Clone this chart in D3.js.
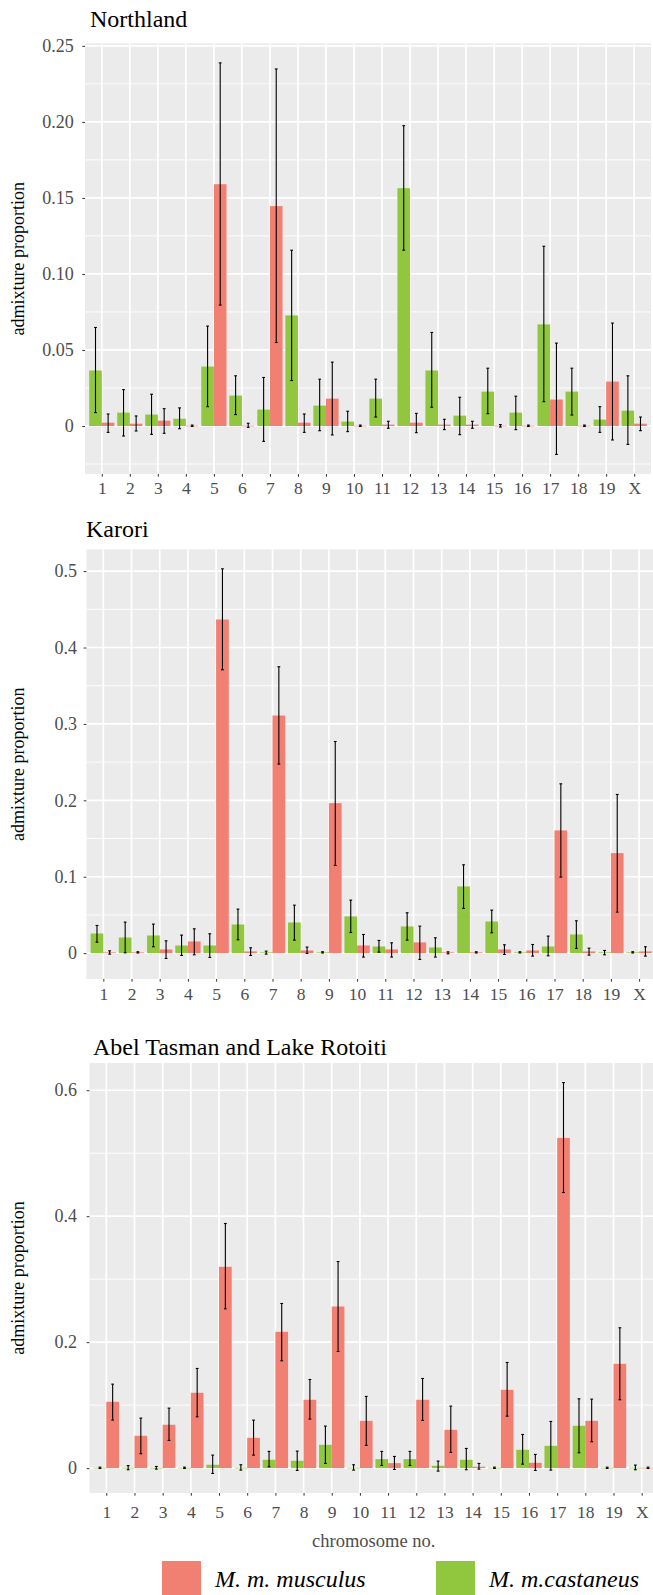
<!DOCTYPE html>
<html>
<head>
<meta charset="utf-8">
<script src="https://cdn.jsdelivr.net/npm/d3@7"></script>
<style>
body { margin: 0; background: #fff; }
svg { display: block; }
svg text { font-family: "Liberation Serif", "Times New Roman", Times, "DejaVu Serif", serif !important; }
</style>
</head>
<body>
<svg id="chart" width="653" height="1595"></svg>
<script>
// chromosome categories
var chromosomes = ["1","2","3","4","5","6","7","8","9","10","11","12","13","14","15","16","17","18","19","X"];

// Northland
var northlandCas   = [0.0365, 0.0088, 0.0075, 0.0048, 0.0391, 0.0200, 0.0108, 0.0727, 0.0134, 0.0029, 0.0180, 0.1564, 0.0365, 0.0068, 0.0226, 0.0088, 0.0668, 0.0226, 0.0042, 0.0101];
var northlandCasLo = [0.0088, -0.0066, -0.0055, -0.0018, 0.0127, 0.0075, -0.0101, 0.0299, -0.0031, -0.0037, 0.0059, 0.1156, 0.0123, -0.0057, 0.0081, -0.0024, 0.0160, 0.0072, -0.0042, -0.0121];
var northlandCasHi = [0.0648, 0.0239, 0.0209, 0.0119, 0.0657, 0.0330, 0.0319, 0.1156, 0.0308, 0.0097, 0.0308, 0.1975, 0.0615, 0.0189, 0.0380, 0.0196, 0.1182, 0.0380, 0.0127, 0.0330];
var northlandMus   = [0.0022, 0.0015, 0.0035, 0.0002, 0.1590, 0.0002, 0.1446, 0.0022, 0.0180, 0.0002, 0.0009, 0.0022, 0.0009, 0.0009, 0.0002, 0.0002, 0.0174, 0.0002, 0.0292, 0.0015];
var northlandMusLo = [-0.0042, -0.0033, -0.0048, -0.0003, 0.0795, -0.0009, 0.0549, -0.0042, -0.0059, -0.0003, -0.0015, -0.0044, -0.0024, -0.0015, -0.0007, -0.0003, -0.0187, -0.0003, -0.0092, -0.0031];
var northlandMusHi = [0.0079, 0.0066, 0.0114, 0.0006, 0.2388, 0.0018, 0.2348, 0.0079, 0.0420, 0.0006, 0.0031, 0.0083, 0.0044, 0.0031, 0.0009, 0.0006, 0.0545, 0.0006, 0.0677, 0.0059];

// Karori
var karoriCas   = [0.0257, 0.0205, 0.0231, 0.0100, 0.0100, 0.0375, 0.0010, 0.0401, 0.0010, 0.0480, 0.0087, 0.0349, 0.0074, 0.0873, 0.0414, 0.0010, 0.0087, 0.0244, 0.0010, 0.0010];
var karoriCasLo = [0.0144, 0.0004, 0.0083, -0.0030, -0.0057, 0.0175, -0.0013, 0.0170, 0.0002, 0.0270, 0.0013, 0.0170, -0.0052, 0.0585, 0.0266, 0.0002, -0.0035, 0.0061, -0.0022, 0.0002];
var karoriCasHi = [0.0362, 0.0406, 0.0380, 0.0236, 0.0253, 0.0576, 0.0026, 0.0628, 0.0018, 0.0694, 0.0166, 0.0528, 0.0201, 0.1156, 0.0563, 0.0018, 0.0223, 0.0423, 0.0035, 0.0018];
var karoriMus   = [0.0010, 0.0010, 0.0048, 0.0153, 0.4367, 0.0022, 0.3110, 0.0035, 0.1963, 0.0100, 0.0048, 0.0140, 0.0010, 0.0010, 0.0048, 0.0035, 0.1606, 0.0022, 0.1309, 0.0022];
var karoriMusLo = [-0.0013, 0.0002, -0.0070, -0.0022, 0.3709, -0.0030, 0.2474, -0.0004, 0.1147, -0.0052, -0.0052, -0.0083, -0.0009, 0.0002, -0.0017, -0.0039, 0.0995, -0.0026, 0.0537, -0.0039];
var karoriMusHi = [0.0030, 0.0018, 0.0161, 0.0318, 0.5030, 0.0070, 0.3748, 0.0079, 0.2770, 0.0244, 0.0135, 0.0353, 0.0017, 0.0018, 0.0109, 0.0113, 0.2216, 0.0065, 0.2077, 0.0083];

// Abel Tasman and Lake Rotoiti
var abelCas   = [0.0005, 0.0005, 0.0005, 0.0005, 0.0053, 0.0005, 0.0132, 0.0116, 0.0370, 0.0005, 0.0143, 0.0143, 0.0037, 0.0132, 0.0005, 0.0291, 0.0354, 0.0672, 0.0005, 0.0005];
var abelCasLo = [-0.0005, -0.0026, -0.0016, -0.0005, -0.0085, -0.0032, 0.0021, -0.0037, 0.0074, -0.0032, 0.0042, 0.0042, -0.0048, -0.0026, -0.0005, 0.0063, -0.0032, 0.0243, -0.0005, -0.0026];
var abelCasHi = [0.0015, 0.0040, 0.0026, 0.0015, 0.0206, 0.0053, 0.0265, 0.0270, 0.0667, 0.0053, 0.0265, 0.0265, 0.0111, 0.0312, 0.0015, 0.0534, 0.0741, 0.1100, 0.0015, 0.0048];
var abelMus   = [0.1053, 0.0513, 0.0688, 0.1196, 0.3196, 0.0481, 0.2164, 0.1085, 0.2566, 0.0751, 0.0079, 0.1085, 0.0608, 0.0021, 0.1243, 0.0085, 0.5243, 0.0751, 0.1656, 0.0005];
var abelMusLo = [0.0762, 0.0228, 0.0439, 0.0815, 0.2529, 0.0206, 0.1704, 0.0778, 0.1852, 0.0360, -0.0021, 0.0757, 0.0249, -0.0016, 0.0825, -0.0037, 0.4376, 0.0418, 0.1085, -0.0005];
var abelMusHi = [0.1333, 0.0794, 0.0952, 0.1582, 0.3884, 0.0762, 0.2614, 0.1407, 0.3280, 0.1138, 0.0185, 0.1423, 0.0984, 0.0074, 0.1677, 0.0217, 0.6122, 0.1095, 0.2228, 0.0015];

// y tick values and labels
var northlandTicks = [0, 0.05, 0.10, 0.15, 0.20, 0.25];
var northlandTickLabels = ["0", "0.05", "0.10", "0.15", "0.20", "0.25"];
var karoriTicks = [0, 0.1, 0.2, 0.3, 0.4, 0.5];
var karoriTickLabels = ["0", "0.1", "0.2", "0.3", "0.4", "0.5"];
var abelTicks = [0, 0.2, 0.4, 0.6];
var abelTickLabels = ["0", "0.2", "0.4", "0.6"];

var legendLabels = ["M. m. musculus", "M. m.castaneus"];

var musColor = "#F17F72";
var casColor = "#91C73E";
var serif = '"Liberation Serif", "Times New Roman", Times, "DejaVu Serif", serif';

var panels = [
    {title: "Northland", cas: northlandCas, casLo: northlandCasLo, casHi: northlandCasHi,
     mus: northlandMus, musLo: northlandMusLo, musHi: northlandMusHi,
     ticks: northlandTicks, tickLabels: northlandTickLabels},
    {title: "Karori", cas: karoriCas, casLo: karoriCasLo, casHi: karoriCasHi,
     mus: karoriMus, musLo: karoriMusLo, musHi: karoriMusHi,
     ticks: karoriTicks, tickLabels: karoriTickLabels},
    {title: "Abel Tasman and Lake Rotoiti", cas: abelCas, casLo: abelCasLo, casHi: abelCasHi,
     mus: abelMus, musLo: abelMusLo, musHi: abelMusHi,
     ticks: abelTicks, tickLabels: abelTickLabels}
];

// panel placement on the page
var layouts = [
    {left: 85,   right: 651,   top: 43.3,  bottom: 474,  titleX: 90, titleY: 27,   yPad: 8.5, xPad: 5},
    {left: 86.4, right: 656,   top: 549.3, bottom: 979,  titleX: 86, titleY: 537,  yPad: 6.6, xPad: 6},
    {left: 89.4, right: 658.6, top: 1063,  bottom: 1493, titleX: 93, titleY: 1055, yPad: 9.6, xPad: 9.7}
];

function drawPanel(svg, p, lay)
{
    var g = svg.append('g');

    var lo = d3.min(p.casLo.concat(p.musLo));
    var hi = d3.max(p.casHi.concat(p.musHi));
    var pad = (hi - lo) * 0.05;

    var yScale = d3.scaleLinear()
                    .domain([lo - pad, hi + pad])
                    .range([lay.bottom, lay.top]);
    var xScale = d3.scalePoint()
                    .domain(chromosomes)
                    .range([lay.left, lay.right])
                    .padding(0.6);
    var step = xScale.step();
    var barW = step * 0.45;

    // panel background
    g.append('rect')
        .attr('x', lay.left)
        .attr('y', lay.top)
        .attr('width', lay.right - lay.left)
        .attr('height', lay.bottom - lay.top)
        .attr('fill', '#EBEBEB');

    // minor grid lines
    var s = p.ticks[1] - p.ticks[0];
    var dom = yScale.domain();
    var minors = [];
    for (var k = -1; k < p.ticks.length + 1; k++)
    {
        var v = p.ticks[0] + s * k + s / 2;
        if (v > dom[0] && v < dom[1]) minors.push(v);
    }
    g.selectAll('.minor')
        .data(minors)
        .enter().append('line')
        .attr('x1', lay.left).attr('x2', lay.right)
        .attr('y1', d => yScale(d)).attr('y2', d => yScale(d))
        .attr('stroke', '#fff')
        .attr('stroke-width', 0.9);

    // major grid lines
    g.selectAll('.hmajor')
        .data(p.ticks)
        .enter().append('line')
        .attr('x1', lay.left).attr('x2', lay.right)
        .attr('y1', d => yScale(d)).attr('y2', d => yScale(d))
        .attr('stroke', '#fff')
        .attr('stroke-width', 1.7);
    g.selectAll('.vmajor')
        .data(chromosomes)
        .enter().append('line')
        .attr('x1', d => xScale(d)).attr('x2', d => xScale(d))
        .attr('y1', lay.top).attr('y2', lay.bottom)
        .attr('stroke', '#fff')
        .attr('stroke-width', 1.7);

    // bars: castaneus left, musculus right
    var rows = chromosomes.map(function (c, i) {
        return {c: c, cas: p.cas[i], casLo: p.casLo[i], casHi: p.casHi[i],
                mus: p.mus[i], musLo: p.musLo[i], musHi: p.musHi[i]};
    });

    g.selectAll('.casBar')
        .data(rows)
        .enter().append('rect')
        .attr('x', d => xScale(d.c) - barW)
        .attr('y', d => yScale(d.cas))
        .attr('width', barW)
        .attr('height', d => Math.max(0.6, yScale(0) - yScale(d.cas)))
        .attr('fill', casColor);

    g.selectAll('.musBar')
        .data(rows)
        .enter().append('rect')
        .attr('x', d => xScale(d.c))
        .attr('y', d => yScale(d.mus))
        .attr('width', barW)
        .attr('height', d => Math.max(0.6, yScale(0) - yScale(d.mus)))
        .attr('fill', musColor);

    // error bars
    function errorBars(offset, loKey, hiKey)
    {
        var eb = g.selectAll('.eb' + loKey)
                    .data(rows)
                    .enter().append('g')
                    .attr('stroke', '#000')
                    .attr('stroke-width', 1.1);
        eb.append('line')
            .attr('x1', d => xScale(d.c) + offset).attr('x2', d => xScale(d.c) + offset)
            .attr('y1', d => yScale(d[loKey])).attr('y2', d => yScale(d[hiKey]));
        eb.append('line')
            .attr('x1', d => xScale(d.c) + offset - 1.4).attr('x2', d => xScale(d.c) + offset + 1.4)
            .attr('y1', d => yScale(d[loKey])).attr('y2', d => yScale(d[loKey]));
        eb.append('line')
            .attr('x1', d => xScale(d.c) + offset - 1.4).attr('x2', d => xScale(d.c) + offset + 1.4)
            .attr('y1', d => yScale(d[hiKey])).attr('y2', d => yScale(d[hiKey]));
    }
    errorBars(-barW / 2, 'casLo', 'casHi');
    errorBars(barW / 2, 'musLo', 'musHi');

    // y axis
    var y_axis = d3.axisLeft(yScale)
                    .tickValues(p.ticks)
                    .tickFormat((d, i) => p.tickLabels[i])
                    .tickSize(2.7)
                    .tickPadding(lay.yPad);
    var ya = g.append('g')
        .attr('transform', 'translate(' + lay.left + ',0)')
        .call(y_axis)
        .attr('font-family', serif);
    ya.select('.domain').remove();
    ya.selectAll('line').attr('stroke', '#333');
    ya.selectAll('text')
        .attr('fill', '#4D4D4D')
        .style('font-size', '18px');

    // x axis
    var x_axis = d3.axisBottom(xScale)
                    .tickSize(2.7)
                    .tickPadding(lay.xPad);
    var xa = g.append('g')
        .attr('transform', 'translate(0,' + lay.bottom + ')')
        .call(x_axis)
        .attr('font-family', serif);
    xa.select('.domain').remove();
    xa.selectAll('line').attr('stroke', '#333');
    xa.selectAll('text')
        .attr('fill', '#4D4D4D')
        .style('font-size', '17.5px');

    // title
    g.append('text')
        .attr('x', lay.titleX)
        .attr('y', lay.titleY)
        .attr('font-family', serif)
        .style('font-size', '24px')
        .attr('fill', '#000')
        .text(p.title);

    // y axis label
    g.append('g')
        .attr('transform', 'translate(24,' + (lay.top + lay.bottom) / 2 + ')')
        .append('text')
        .attr('text-anchor', 'middle')
        .attr('transform', 'rotate(-90)')
        .attr('font-family', serif)
        .style('font-size', '18px')
        .attr('fill', '#000')
        .text('admixture proportion');
}

var svg = d3.select('#chart');
for (var i = 0; i < panels.length; i++)
{
    drawPanel(svg, panels[i], layouts[i]);
}

// x axis label, only under the last panel
svg.append('text')
    .attr('text-anchor', 'middle')
    .attr('x', 373.7)
    .attr('y', 1546.5)
    .attr('font-family', serif)
    .style('font-size', '18.5px')
    .attr('fill', '#4D4D4D')
    .text('chromosome no.');

// legend
var legendX = [162, 436];
var legendColors = [musColor, casColor];
for (var j = 0; j < legendLabels.length; j++)
{
    svg.append('rect')
        .attr('x', legendX[j])
        .attr('y', 1561)
        .attr('width', 39)
        .attr('height', 39)
        .attr('fill', legendColors[j]);
    svg.append('text')
        .attr('x', legendX[j] + 53)
        .attr('y', 1586.5)
        .attr('font-family', serif)
        .style('font-style', 'italic')
        .style('font-size', '24px')
        .attr('fill', '#000')
        .text(legendLabels[j]);
}
</script>
</body>
</html>
